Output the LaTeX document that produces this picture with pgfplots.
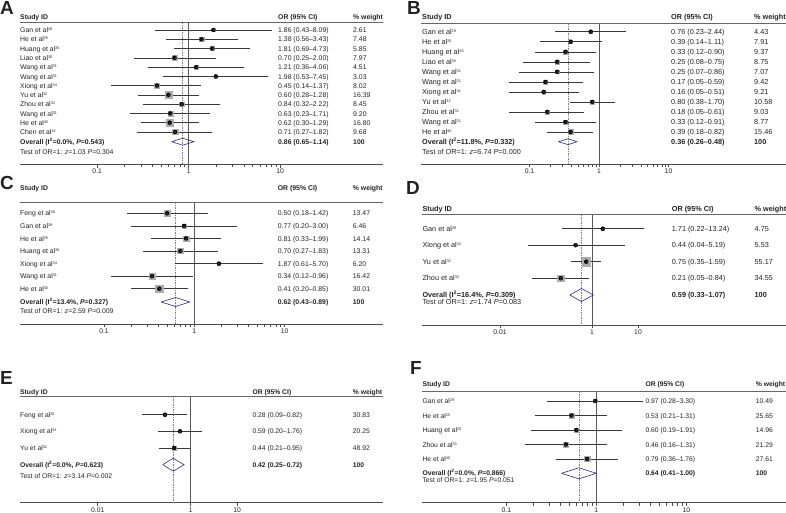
\documentclass[border=0pt]{standalone}
\usepackage{pgfplots}
\pgfplotsset{compat=1.18}
\usepackage{pgfplotstable}
\usepackage{fontspec}
\setmainfont{Liberation Sans}
\definecolor{boxc}{RGB}{172,172,172}
\definecolor{dia}{RGB}{40,45,120}
\definecolor{txt}{RGB}{35,35,35}

\newcommand{\s}[1]{\raisebox{0.55ex}{\fontsize{3.8}{4}\selectfont #1}}
\newcommand{\fA}{\fontsize{6.9}{8}\selectfont}
\newcommand{\fB}{\fontsize{7.3}{8}\selectfont}
\newcommand{\fE}{\fontsize{6.8}{8}\selectfont}
\newcommand{\fL}{\fontsize{19}{19}\selectfont\bfseries}

% y = vertical position of the row, or = odds ratio, lo/hi = 95% CI, w = % weight
\pgfplotstableread{
y or lo hi w
-30.0 1.86 0.43 8.09 2.61
-39.3 1.38 0.56 3.43 7.48
-48.5 1.81 0.69 4.73 5.85
-57.8 0.70 0.25 2.00 7.97
-67.1 1.21 0.36 4.06 4.51
-76.4 1.98 0.53 7.45 3.03
-85.6 0.45 0.14 1.37 8.02
-94.9 0.60 0.28 1.28 16.39
-104.2 0.84 0.32 2.22 8.45
-113.4 0.63 0.23 1.71 9.20
-122.7 0.62 0.30 1.29 16.80
-132.0 0.71 0.27 1.82 9.68
}\tabA
\pgfplotstableread{
y or lo hi w
-31.7 0.76 0.23 2.44 4.43
-41.7 0.39 0.14 1.11 7.91
-51.8 0.33 0.12 0.90 9.37
-61.8 0.25 0.08 0.75 8.75
-71.8 0.25 0.07 0.86 7.07
-81.9 0.17 0.05 0.59 9.42
-91.9 0.16 0.05 0.51 9.21
-101.9 0.80 0.38 1.70 10.58
-111.9 0.18 0.05 0.61 9.03
-122.0 0.33 0.12 0.91 8.77
-132.0 0.39 0.18 0.82 15.46
}\tabB
\pgfplotstableread{
y or lo hi w
-213.3 0.50 0.18 1.42 13.47
-225.9 0.77 0.20 3.00 6.46
-238.4 0.81 0.33 1.99 14.14
-251.0 0.70 0.27 1.83 13.31
-263.6 1.87 0.61 5.70 6.20
-276.2 0.34 0.12 0.96 16.42
-288.7 0.41 0.20 0.85 30.01
}\tabC
\pgfplotstableread{
y or lo hi w
-228.7 1.71 0.22 13.24 4.75
-245.2 0.44 0.04 5.19 5.53
-261.7 0.75 0.35 1.59 55.17
-278.2 0.21 0.05 0.84 34.55
}\tabD
\pgfplotstableread{
y or lo hi w
-414.7 0.28 0.09 0.82 30.83
-431.3 0.59 0.20 1.76 20.25
-448.0 0.44 0.21 0.95 48.92
}\tabE
\pgfplotstableread{
y or lo hi w
-401.0 0.97 0.28 3.30 10.49
-415.5 0.53 0.21 1.31 25.65
-430.0 0.60 0.19 1.91 14.96
-444.5 0.46 0.16 1.31 21.29
-459.0 0.79 0.36 1.76 27.61
}\tabF

\pgfplotsset{myforest/.style={
  scale only axis, anchor=north west,
  axis x line=bottom, axis y line=none,
  x axis line style={-, draw=black!70, line width=0.6bp},
  xtick align=outside, major tick length=3bp, minor xtick={},
  tick style={draw=black!70, line width=0.5bp},
  xticklabel style={font=\fE, text=txt, inner sep=1.5bp},
  clip=false, enlargelimits=false}}

% #1 table, #2 half-size factor of the weight boxes
\newcommand{\studies}[2]{%
  \addplot[scatter, only marks, mark=square*,
    scatter/use mapped color={draw=boxc, fill=boxc},
    visualization depends on={\thisrow{w} \as \wt},
    scatter/@pre marker code/.append style={/tikz/mark size={#2*sqrt(\wt)}}]
    table[x=or, y=y]{#1};
  \addplot[only marks, mark=none,
    error bars/.cd, x dir=both, x explicit, error mark=none,
    error bar style={draw=black!78, line width=0.5bp}]
    table[x=or, y=y, x error plus expr=\thisrow{hi}-\thisrow{or},
          x error minus expr=\thisrow{or}-\thisrow{lo}]{#1};
  \addplot[only marks, mark=square*, mark size=0.55bp, black!85] table[x=or, y=y]{#1};
}
% #1 overall OR, #2 top y, #3 bottom y
\newcommand{\reflines}[3]{%
  \addplot[black!65, line width=0.6bp] coordinates {(1,#2) (1,#3)};
  \addplot[black!50, line width=0.5bp, dash pattern=on 1.5bp off 1bp] coordinates {(#1,#2) (#1,#3)};
}
\newcommand{\trow}[8]{%
  \node[anchor=mid west, font=#1] at (#2,#5) {#6};
  \node[anchor=mid west, font=#1] at (#3,#5) {#7};
  \node[anchor=mid west, font=#1] at (#4,#5) {#8};
}

\begin{document}
\begin{tikzpicture}
% ---------------- A ----------------
\begin{axis}[xmode=log, myforest, at={(20bp,-22.3bp)}, width=363bp, height=142.2bp,
  xmin=0.014332, xmax=132.9, ymin=-164.5, ymax=-22.3,
  xtick={0.1,1,10}, xticklabels={0.1,1,10}]
  \reflines{0.86}{-22.3}{-164.5}
  \studies{\tabA}{0.85}
  \addplot[draw=dia, line width=0.6bp] coordinates {(0.65,-141.7) (0.86,-138.2) (1.14,-141.7) (0.86,-145.2) (0.65,-141.7)};
\end{axis}
% ---------------- B ----------------
\begin{axis}[xmode=log, myforest, at={(421bp,-23.3bp)}, width=365bp, height=140.7bp,
  xmin=0.0027469, xmax=490.5, ymin=-164, ymax=-23.3,
  xtick={0.1,1,10}, xticklabels={0.1,1,10}]
  \reflines{0.36}{-23.3}{-164}
  \studies{\tabB}{0.65}
  \addplot[draw=dia, line width=0.6bp] coordinates {(0.26,-141.7) (0.36,-138.7) (0.48,-141.7) (0.36,-144.7) (0.26,-141.7)};
\end{axis}
% ---------------- C ----------------
\begin{axis}[xmode=log, myforest, at={(20bp,-202.3bp)}, width=363bp, height=122bp,
  xmin=0.011744, xmax=122.92, ymin=-324.3, ymax=-202.3,
  xtick={0.1,1,10}, xticklabels={0.1,1,10}]
  \reflines{0.62}{-202.3}{-324.3}
  \studies{\tabC}{0.72}
  \addplot[draw=dia, line width=0.6bp] coordinates {(0.43,-302) (0.62,-297.5) (0.89,-302) (0.62,-306.5) (0.43,-302)};
\end{axis}
% ---------------- D ----------------
\begin{axis}[xmode=log, myforest, at={(422bp,-214.7bp)}, width=364bp, height=110.6bp,
  xmin=2.0153e-4, xmax=16499, ymin=-325.3, ymax=-214.7,
  xtick={0.01,1,10}, xticklabels={0.01,1,10}]
  \reflines{0.59}{-214.7}{-325.3}
  \studies{\tabD}{0.55}
  \addplot[draw=dia, line width=0.6bp] coordinates {(0.33,-295) (0.59,-288.5) (1.07,-295) (0.59,-301.5) (0.33,-295)};
\end{axis}
% ---------------- E ----------------
\begin{axis}[xmode=log, myforest, at={(20bp,-396.7bp)}, width=363bp, height=106bp,
  xmin=2.1330e-4, xmax=13662, ymin=-502.7, ymax=-396.7,
  xtick={0.01,1,10}, xticklabels={0.01,1,10}]
  \reflines{0.42}{-396.7}{-502.7}
  \studies{\tabE}{0.3}
  \addplot[draw=dia, line width=0.6bp] coordinates {(0.25,-464.7) (0.42,-458.2) (0.72,-464.7) (0.42,-471.2) (0.25,-464.7)};
\end{axis}
% ---------------- F ----------------
\begin{axis}[xmode=log, myforest, at={(422bp,-391.7bp)}, width=364bp, height=111bp,
  xmin=0.011567, xmax=128.18, ymin=-502.7, ymax=-391.7,
  xtick={0.1,1,10}, xticklabels={0.1,1,10}]
  \reflines{0.64}{-391.7}{-502.7}
  \studies{\tabF}{0.5}
  \addplot[draw=dia, line width=0.6bp] coordinates {(0.41,-473.3) (0.64,-467.8) (1.00,-473.3) (0.64,-478.8) (0.41,-473.3)};
\end{axis}

\begin{scope}[x=1bp, y=-1bp, every node/.style={inner sep=0pt, text=txt}]
% header rules
\draw[black!60, line width=0.8bp] (20,22.3) -- (383,22.3);
\draw[black!60, line width=0.8bp] (421,23.3) -- (786,23.3);
\draw[black!60, line width=0.9bp] (20,202.3) -- (383,202.3);
\draw[black!60, line width=0.9bp] (422,214.7) -- (786,214.7);
\draw[black!60, line width=0.9bp] (20,396.7) -- (383,396.7);
\draw[black!60, line width=0.9bp] (422,391.7) -- (786,391.7);
% panel letters
\node[anchor=north west, font=\fL] at (0,1.5) {A};
\node[anchor=north west, font=\fL] at (407,1.5) {B};
\node[anchor=north west, font=\fL] at (0,176.5) {C};
\node[anchor=north west, font=\fL] at (406,181.5) {D};
\node[anchor=north west, font=\fL] at (0,371.5) {E};
\node[anchor=north west, font=\fL] at (410,361.5) {F};

% ---- A text ----
\trow{\fA\bfseries}{20}{278}{353}{17}{Study ID}{OR (95\% CI)}{\% weight}
\foreach \yy/\nm/\ci/\wt in {
 30.0/Gan et al\s{29}/1.86 (0.43--8.09)/2.61,
 39.3/He et al\s{25}/1.38 (0.56--3.43)/7.48,
 48.5/Huang et al\s{26}/1.81 (0.69--4.73)/5.85,
 57.8/Liao et al\s{30}/0.70 (0.25--2.00)/7.97,
 67.1/Wang et al\s{31}/1.21 (0.36--4.06)/4.51,
 76.4/Wang et al\s{31}/1.98 (0.53--7.45)/3.03,
 85.6/Xiong et al\s{34}/0.45 (0.14--1.37)/8.02,
 94.9/Yu et al\s{32}/0.60 (0.28--1.28)/16.39,
 104.2/Zhou et al\s{33}/0.84 (0.32--2.22)/8.45,
 113.4/Wang et al\s{31}/0.63 (0.23--1.71)/9.20,
 122.7/He et al\s{40}/0.62 (0.30--1.29)/16.80,
 132.0/Chen et al\s{42}/0.71 (0.27--1.82)/9.68}
 {\trow{\fA}{20}{278}{353}{\yy}{\nm}{\ci}{\wt}}
\trow{\fA\bfseries}{20}{278}{353}{141.7}{Overall (I\textsuperscript{2}=0.0\%, \textit{P}=0.543)}{0.86 (0.65--1.14)}{100}
\node[anchor=mid west, font=\fA] at (20,151.7) {Test of OR=1: \textit{z}=1.03 \textit{P}=0.304};

% ---- B text ----
\trow{\fB\bfseries}{422}{671}{754}{17}{Study ID}{OR (95\% CI)}{\% weight}
\foreach \yy/\nm/\ci/\wt in {
 31.7/Gan et al\s{29}/0.76 (0.23--2.44)/4.43,
 41.7/He et al\s{25}/0.39 (0.14--1.11)/7.91,
 51.8/Huang et al\s{26}/0.33 (0.12--0.90)/9.37,
 61.8/Liao et al\s{30}/0.25 (0.08--0.75)/8.75,
 71.8/Wang et al\s{31}/0.25 (0.07--0.86)/7.07,
 81.9/Wang et al\s{31}/0.17 (0.05--0.59)/9.42,
 91.9/Xiong et al\s{34}/0.16 (0.05--0.51)/9.21,
 101.9/Yu et al\s{32}/0.80 (0.38--1.70)/10.58,
 111.9/Zhou et al\s{33}/0.18 (0.05--0.61)/9.03,
 122.0/Wang et al\s{31}/0.33 (0.12--0.91)/8.77,
 132.0/He et al\s{40}/0.39 (0.18--0.82)/15.46}
 {\trow{\fB}{422}{671}{754}{\yy}{\nm}{\ci}{\wt}}
\trow{\fB\bfseries}{422}{671}{754}{141.7}{Overall (I\textsuperscript{2}=11.8\%, \textit{P}=0.332)}{0.36 (0.26--0.48)}{100}
\node[anchor=mid west, font=\fB] at (422,151.7) {Test of OR=1: \textit{z}=6.74 \textit{P}=0.000};

% ---- C text ----
\trow{\fA\bfseries}{20}{277.7}{352.7}{188.3}{Study ID}{OR (95\% CI)}{\% weight}
\foreach \yy/\nm/\ci/\wt in {
 213.3/Feng et al\s{28}/0.50 (0.18--1.42)/13.47,
 225.9/Gan et al\s{29}/0.77 (0.20--3.00)/6.46,
 238.4/He et al\s{25}/0.81 (0.33--1.99)/14.14,
 251.0/Huang et al\s{26}/0.70 (0.27--1.83)/13.31,
 263.6/Xiong et al\s{34}/1.87 (0.61--5.70)/6.20,
 276.2/Wang et al\s{31}/0.34 (0.12--0.96)/16.42,
 288.7/He et al\s{40}/0.41 (0.20--0.85)/30.01}
 {\trow{\fA}{20}{277.7}{352.7}{\yy}{\nm}{\ci}{\wt}}
\trow{\fA\bfseries}{20}{277.7}{352.7}{302}{Overall (I\textsuperscript{2}=13.4\%, \textit{P}=0.327)}{0.62 (0.43--0.89)}{100}
\node[anchor=mid west, font=\fA] at (20,310.7) {Test of OR=1: \textit{z}=2.59 \textit{P}=0.009};

% ---- D text ----
\trow{\fB\bfseries}{422.3}{671.7}{754.5}{209.3}{Study ID}{OR (95\% CI)}{\% weight}
\foreach \yy/\nm/\ci/\wt in {
 228.7/Gan et al\s{29}/1.71 (0.22--13.24)/4.75,
 245.2/Xiong et al\s{34}/0.44 (0.04--5.19)/5.53,
 261.7/Yu et al\s{32}/0.75 (0.35--1.59)/55.17,
 278.2/Zhou et al\s{33}/0.21 (0.05--0.84)/34.55}
 {\trow{\fB}{422.3}{671.7}{754.5}{\yy}{\nm}{\ci}{\wt}}
\trow{\fB\bfseries}{422.3}{671.7}{754.5}{295}{Overall (I\textsuperscript{2}=16.4\%, \textit{P}=0.309)}{0.59 (0.33--1.07)}{100}
\node[anchor=mid west, font=\fB] at (422.3,301.5) {Test of OR=1: \textit{z}=1.74 \textit{P}=0.083};

% ---- E text ----
\trow{\fE\bfseries}{20}{252.3}{352.7}{391.7}{Study ID}{OR (95\% CI)}{\% weight}
\foreach \yy/\nm/\ci/\wt in {
 414.7/Feng et al\s{28}/0.28 (0.09--0.82)/30.83,
 431.3/Xiong et al\s{34}/0.59 (0.20--1.76)/20.25,
 448.0/Yu et al\s{32}/0.44 (0.21--0.95)/48.92}
 {\trow{\fE}{20}{252.3}{352.7}{\yy}{\nm}{\ci}{\wt}}
\trow{\fE\bfseries}{20}{252.3}{352.7}{464.7}{Overall (I\textsuperscript{2}=0.0\%, \textit{P}=0.623)}{0.42 (0.25--0.72)}{100}
\node[anchor=mid west, font=\fE] at (20,475.7) {Test of OR=1: \textit{z}=3.14 \textit{P}=0.002};

% ---- F text ----
\trow{\fE\bfseries}{422.3}{645.3}{755.7}{384.3}{Study ID}{OR (95\% CI)}{\% weight}
\foreach \yy/\nm/\ci/\wt in {
 401.0/Gan et al\s{29}/0.97 (0.28--3.30)/10.49,
 415.5/He et al\s{25}/0.53 (0.21--1.31)/25.65,
 430.0/Huang et al\s{26}/0.60 (0.19--1.91)/14.96,
 444.5/Zhou et al\s{33}/0.46 (0.16--1.31)/21.29,
 459.0/He et al\s{40}/0.79 (0.36--1.76)/27.61}
 {\trow{\fE}{422.3}{645.3}{755.7}{\yy}{\nm}{\ci}{\wt}}
\trow{\fE\bfseries}{422.3}{645.3}{755.7}{473.3}{Overall (I\textsuperscript{2}=0.0\%, \textit{P}=0.866)}{0.64 (0.41--1.00)}{100}
\node[anchor=mid west, font=\fE] at (422.3,479.5) {Test of OR=1: \textit{z}=1.95 \textit{P}=0.051};
\end{scope}

\pgfresetboundingbox
\useasboundingbox (0bp,0bp) rectangle (786bp,-513bp);
\end{tikzpicture}
\end{document}
